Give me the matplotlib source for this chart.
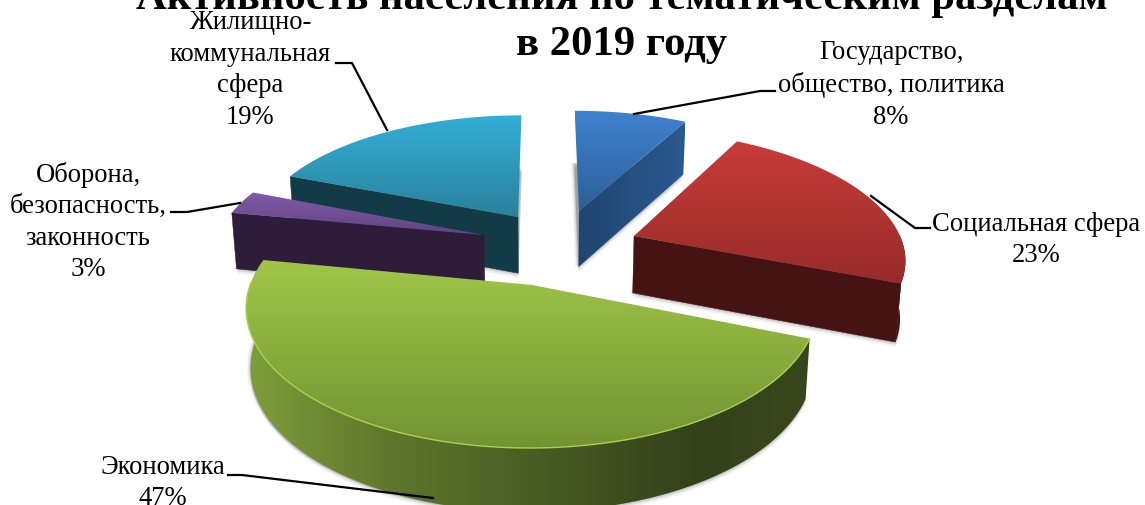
import numpy as np
from matplotlib import pyplot as plt
from matplotlib.colors import LinearSegmentedColormap
from matplotlib.patches import Polygon

plt.rcParams['font.family'] = ['Liberation Serif', 'DejaVu Serif']

title = 'Активность населения по тематическим разделам\nв 2019 году'
categories = ['Государство,\nобщество, политика', 'Социальная сфера', 'Экономика',
              'Оборона,\nбезопасность,\nзаконность', 'Жилищно-\nкоммунальная\nсфера']
values = [8, 23, 47, 3, 19]

# цвета: верх сектора (светлый, темный), боковая стенка
top_colors = [('#4082d0', '#2d5f98'), ('#c83c3a', '#962b29'), ('#a0c648', '#739233'),
              ('#8259a8', '#5f4580'), ('#33afd6', '#2a819c')]
wall_colors = ['#28578c', '#451313', '#4a5e24', '#2e1c3a', '#133a47']

# вершины секторов на картинке и порядок рисования (от дальних к ближним)
tips = [(579, 212), (634, 237), (532, 286), (484, 236), (518, 218)]
draw_order = [4, 0, 3, 1, 2]
# какая плоская стенка видна: 0 - начало сектора, -1 - конец, None - ни одной
flat_edge = [-1, -1, None, 0, 0]

# положение подписей и выноски
label_pos = [(891, 85), (1036, 240), (163, 483), (88, 222), (250, 70)]
leaders = [[(634, 115), (760, 92), (775, 92)],
           [(871, 197), (915, 229), (930, 229)],
           [(433, 499), (242, 476), (228, 476)],
           [(240, 204), (187, 213), (171, 213)],
           [(387, 131), (352, 64), (336, 64)]]

CX, CY = 545, 240
A, B, K = 267, 123, 0.15
H = 57


def project(x, y):
    w = 1 + K * y
    return CX + A * x / w, CY - B * y / w


def unproject(sx, sy):
    v = (CY - sy) / B
    y = v / (1 - K * v)
    w = 1 + K * y
    return (sx - CX) * w / A, y


def drop(sx, sy, y):
    # нижняя кромка стенки
    w = 1 + K * y
    return CX + (sx - CX) * 0.985, sy + H / np.sqrt(w)


def gradient_fill(ax, points, colors, horizontal=False, stops=None, zorder=2):
    pts = np.array(points)
    patch = Polygon(pts, closed=True, facecolor='none', edgecolor='none', zorder=zorder)
    ax.add_patch(patch)
    x0, x1 = pts[:, 0].min(), pts[:, 0].max()
    y0, y1 = pts[:, 1].min(), pts[:, 1].max()
    if stops is None:
        cmap = LinearSegmentedColormap.from_list('g', colors)
    else:
        cmap = LinearSegmentedColormap.from_list('g', list(zip(stops, colors)))
    ramp = np.linspace(0, 1, 256)
    ramp = ramp.reshape(1, -1) if horizontal else ramp.reshape(-1, 1)
    img = ax.imshow(ramp, cmap=cmap, extent=(x0, x1, y1, y0), aspect='auto',
                    origin='upper', zorder=zorder, interpolation='bilinear')
    img.set_clip_path(patch)


def soft_shadow(ax, points, zorder):
    pts = np.array(points)
    for dx, alpha in [(5, 0.06), (3, 0.1), (1.5, 0.14)]:
        ax.add_patch(Polygon(pts + [[0, dx]], closed=True, facecolor='#404040', edgecolor='none',
                             alpha=alpha, zorder=zorder))
        ax.add_patch(Polygon(pts + [[-dx * 0.7, 0]], closed=True, facecolor='#404040', edgecolor='none',
                             alpha=alpha, zorder=zorder))


fig = plt.figure(figsize=(11.45, 5.06), dpi=100)
ax = fig.add_axes([0, 0, 1, 1])

# углы секторов считаем из значений, по часовой стрелке от 12 часов
edges = np.cumsum([0] + values) / sum(values) * 2 * np.pi

for n, i in enumerate(draw_order):
    zo = 2 + n
    t = np.linspace(edges[i], edges[i + 1], 120)
    tx, ty = unproject(*tips[i])
    wx = tx + np.sin(t)
    wy = ty + np.cos(t)
    sx, sy = project(wx, wy)
    bx, by = drop(sx, sy, wy)
    tbx, tby = drop(tips[i][0], tips[i][1], ty)

    # тень и нижний силуэт
    sil = [(tbx, tby)] + list(zip(bx, by))
    soft_shadow(ax, sil, zo)

    # плоская стенка у кромки сектора
    k = flat_edge[i]
    if k is not None:
        flat = [tips[i], (sx[k], sy[k]), (bx[k], by[k]), (tbx, tby)]
        if i == 0:
            gradient_fill(ax, flat, ['#20456f', '#2a5a90'], horizontal=True, zorder=zo)
        else:
            ax.add_patch(Polygon(flat, closed=True, facecolor=wall_colors[i], edgecolor=wall_colors[i],
                                 linewidth=0.3, zorder=zo))

    # внешняя стенка (только та часть, что смотрит на зрителя)
    front = np.cos(t) < 0.02
    if front.any():
        wall = list(zip(sx[front], sy[front])) + list(zip(bx[front][::-1], by[front][::-1]))
        if i == 2:
            gradient_fill(ax, wall, ['#7f9e3a', '#5f772c', '#4a5e24', '#33411a', '#38471b'],
                          horizontal=True, stops=[0, 0.25, 0.5, 0.8, 1], zorder=zo)
        else:
            ax.add_patch(Polygon(wall, closed=True, facecolor=wall_colors[i], edgecolor='none', zorder=zo))

    face = [tips[i]] + list(zip(sx, sy))
    gradient_fill(ax, face, top_colors[i], zorder=zo + 0.5)
    if i == 2:
        ax.plot(sx[front], sy[front], color='#a9d150', linewidth=1, zorder=zo + 0.6)

for xy, name, v, line in zip(label_pos, categories, values, leaders):
    ax.text(xy[0], xy[1], f'{name}\n{v}%', ha='center', va='center', fontsize=19.2,
            linespacing=1.35, color='black', zorder=20)
    pts = np.array(line)
    ax.plot(pts[:, 0], pts[:, 1], color='black', linewidth=1.6, zorder=19)

ax.text(622, 22, title, ha='center', va='center', fontsize=30.7, fontweight='bold',
        linespacing=1.27, zorder=18)

ax.set_xlim(0, 1145)
ax.set_ylim(506, 0)
ax.axis('off')

plt.savefig('out.png', dpi=100)
plt.close()
